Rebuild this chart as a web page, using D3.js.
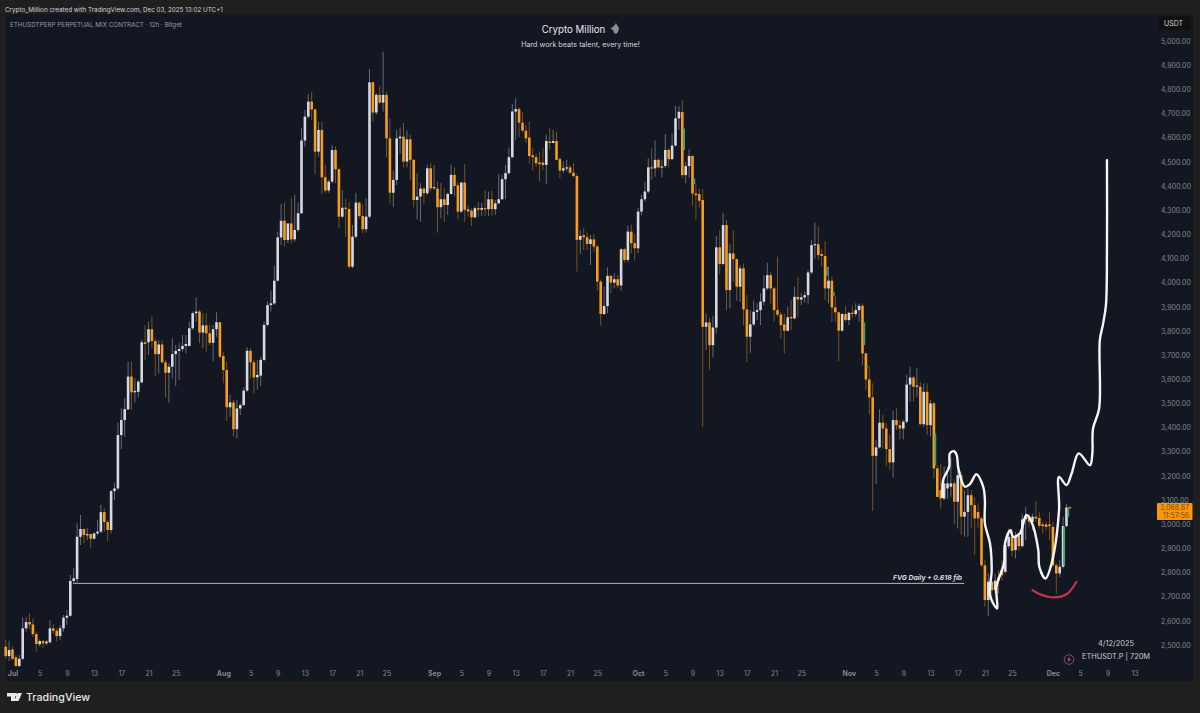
<!DOCTYPE html>
<html>
<head>
<meta charset="utf-8">
<script src="https://cdn.jsdelivr.net/npm/d3@7"></script>
<style>
  html, body { margin: 0; padding: 0; background: #1f1f1f; }
  svg { display: block; font-family: Inter, "Liberation Sans", sans-serif; }
</style>
</head>
<body>
<svg id="chart" width="1200" height="713"></svg>
<script>
// 12h candles, first one opens 30 Jun 2025
var opens = [
  2493,2454,2482,2449,2413,2443,2569,2595,2585,2545,
  2503,2516,2507,2511,2569,2559,2537,2569,2613,2621,
  2765,2773,2948,2980,2955,2959,2940,2962,2969,3050,
  3009,2976,3137,3148,3369,3431,3475,3611,3546,3548,
  3587,3753,3753,3807,3758,3704,3744,3670,3627,3652,
  3704,3717,3725,3738,3738,3811,3873,3880,3793,3823,
  3790,3751,3807,3836,3696,3638,3484,3504,3393,3479,
  3493,3553,3718,3670,3608,3615,3680,3825,3907,3914,
  4008,4187,4256,4176,4245,4179,4218,4287,4588,4687,
  4749,4717,4542,4632,4436,4381,4418,4549,4469,4273,
  4310,4305,4066,4190,4331,4276,4221,4273,4829,4704,
  4777,4745,4777,4597,4372,4425,4597,4604,4501,4593,
  4508,4342,4356,4389,4370,4473,4390,4389,4312,4345,
  4321,4367,4446,4403,4294,4414,4304,4298,4270,4308,
  4302,4308,4304,4345,4304,4328,4345,4428,4453,4519,
  4708,4718,4662,4629,4600,4527,4519,4497,4497,4487,
  4584,4578,4586,4511,4464,4473,4477,4455,4441,4177,
  4196,4188,4160,4179,4149,4004,3870,3903,4028,4000,
  4014,3988,4138,4094,4211,4163,4142,4294,4345,4377,
  4477,4473,4508,4477,4483,4549,4511,4567,4680,4706,
  4445,4482,4524,4369,4366,4342,3817,3835,3741,3814,
  4146,4077,4238,3969,4121,4097,3983,4059,3889,3776,
  3827,3879,3886,3921,3976,4031,3976,3886,3868,3827,
  3801,3858,3852,3941,3930,3939,3948,4042,4155,4159,
  4118,4110,3976,4008,3897,3877,3801,3870,3845,3875,
  3870,3886,3904,3707,3599,3525,3283,3318,3420,3396,
  3311,3256,3431,3410,3396,3424,3578,3607,3569,3569,
  3414,3548,3410,3500,3231,3141,3106,3148,3155,3169,
  3093,3203,3031,3051,3120,3079,3051,3024,2830,2686,
  2762,2727,2780,2810,2803,2909,2948,2893,2951,2909,
  3020,3031,3010,3031,3026,2999,2999,2999,2989,2830,
  2796,2824,2992,3070
];
var closes = [
  2454,2479,2443,2413,2443,2569,2595,2585,2545,2504,
  2516,2507,2514,2569,2559,2537,2569,2613,2621,2765,
  2776,2948,2980,2955,2959,2940,2962,2969,3050,3009,
  2976,3137,3148,3369,3431,3476,3611,3546,3552,3590,
  3753,3746,3807,3758,3704,3744,3670,3627,3652,3704,
  3717,3725,3738,3746,3811,3873,3880,3793,3823,3790,
  3751,3807,3836,3693,3638,3484,3504,3393,3479,3493,
  3553,3718,3670,3608,3618,3680,3825,3907,3914,4008,
  4187,4256,4176,4245,4179,4218,4287,4588,4687,4749,
  4717,4542,4632,4436,4381,4418,4549,4469,4273,4310,
  4305,4066,4190,4331,4276,4221,4273,4829,4704,4777,
  4745,4777,4597,4372,4425,4597,4604,4501,4593,4508,
  4342,4356,4389,4370,4473,4390,4395,4312,4345,4321,
  4367,4446,4400,4294,4414,4301,4294,4270,4308,4302,
  4309,4304,4345,4304,4328,4345,4428,4453,4519,4708,
  4718,4662,4629,4597,4524,4519,4494,4490,4487,4586,
  4578,4586,4508,4464,4473,4477,4455,4441,4177,4193,
  4188,4160,4179,4149,4004,3870,3903,4028,4000,4014,
  3988,4138,4094,4211,4163,4142,4294,4345,4377,4477,
  4473,4508,4477,4481,4549,4511,4567,4680,4707,4445,
  4482,4524,4369,4362,4339,3817,3835,3741,3814,4146,
  4077,4238,3969,4121,4097,3983,4059,3889,3776,3827,
  3879,3886,3921,3976,4031,3976,3886,3868,3824,3801,
  3856,3852,3941,3930,3939,3948,4042,4155,4159,4114,
  4110,3976,4008,3897,3877,3801,3870,3845,3875,3870,
  3886,3904,3707,3599,3525,3283,3318,3420,3396,3311,
  3256,3431,3410,3396,3424,3578,3607,3569,3574,3414,
  3548,3410,3500,3231,3113,3106,3169,3169,3169,3093,
  3203,3031,3051,3120,3079,3024,3024,2830,2686,2762,
  2727,2766,2766,2789,2913,2948,2890,2948,2909,3020,
  3033,3010,3031,3024,2993,2992,2989,2992,2830,2796,
  2824,2992,3069,3068.87
];
var highs = [
  2521,2518,2493,2458,2458,2614,2614,2631,2610,2555,
  2523,2521,2521,2603,2587,2569,2583,2624,2645,2790,
  2817,3004,3038,2983,2983,2962,2965,3017,3080,3066,
  3017,3142,3172,3420,3480,3521,3673,3673,3604,3597,
  3762,3824,3838,3859,3769,3762,3762,3680,3666,3769,
  3742,3749,3783,3783,3838,3880,3939,3887,3873,3873,
  3825,3825,3877,3838,3714,3673,3535,3514,3514,3500,
  3566,3732,3728,3680,3680,3693,3838,3921,3967,4069,
  4211,4325,4331,4245,4349,4363,4331,4639,4715,4779,
  4790,4721,4666,4666,4487,4425,4570,4563,4477,4383,
  4349,4335,4238,4372,4335,4325,4349,4884,4832,4784,
  4814,4956,4790,4680,4463,4632,4643,4662,4629,4611,
  4511,4453,4411,4395,4487,4494,4487,4418,4411,4390,
  4372,4487,4477,4418,4418,4490,4321,4308,4315,4335,
  4331,4381,4377,4381,4342,4450,4446,4487,4559,4740,
  4763,4726,4704,4653,4666,4556,4533,4542,4556,4611,
  4639,4632,4625,4519,4501,4508,4487,4494,4450,4218,
  4225,4207,4197,4201,4156,4011,3983,4063,4032,4039,
  4032,4142,4142,4235,4239,4204,4308,4363,4418,4515,
  4556,4588,4515,4508,4615,4556,4618,4731,4731,4756,
  4500,4551,4528,4411,4390,4387,3872,3854,3861,4194,
  4217,4289,4259,4162,4215,4100,4072,4079,3948,3886,
  3925,3914,3955,4031,4082,4045,3983,4107,3879,3872,
  3900,3930,3983,4024,3958,3962,4052,4176,4249,4231,
  4137,4173,4066,4024,3944,3879,3875,3903,3879,3907,
  3914,3914,3914,3710,3652,3583,3348,3476,3452,3417,
  3369,3469,3479,3431,3431,3617,3652,3613,3645,3590,
  3583,3583,3514,3507,3244,3249,3240,3238,3279,3182,
  3251,3217,3141,3148,3141,3113,3085,3031,2851,2796,
  2768,2796,2810,2851,2941,2982,2982,2969,2955,3044,
  3072,3044,3044,3097,3051,3010,3010,3051,3010,2837,
  2851,3031,3083,3075
];
var lows = [
  2445,2434,2438,2410,2410,2438,2555,2565,2534,2472,
  2493,2486,2500,2507,2548,2514,2521,2555,2583,2617,
  2755,2755,2914,2921,2935,2900,2937,2955,2962,2969,
  2930,2962,3100,3142,3311,3362,3473,3473,3503,3525,
  3583,3680,3700,3728,3613,3624,3666,3525,3503,3604,
  3572,3597,3714,3707,3735,3804,3838,3749,3728,3714,
  3742,3673,3776,3686,3583,3428,3445,3362,3355,3452,
  3489,3548,3604,3542,3558,3572,3676,3818,3880,3907,
  4004,4156,4149,4163,4163,4169,4211,4284,4563,4680,
  4673,4450,4521,4367,4370,4372,4411,4411,4225,4266,
  4190,4059,4059,4183,4266,4204,4207,4266,4666,4694,
  4742,4708,4519,4328,4312,4404,4535,4477,4477,4425,
  4312,4262,4252,4326,4363,4377,4383,4207,4266,4252,
  4280,4363,4356,4262,4287,4252,4273,4235,4266,4273,
  4276,4276,4276,4276,4280,4326,4342,4345,4446,4515,
  4590,4602,4621,4577,4494,4464,4480,4418,4466,4408,
  4552,4577,4508,4432,4453,4460,4450,4436,4046,4119,
  4135,4135,4073,4128,3967,3821,3866,3873,3956,3976,
  3976,3967,4083,4083,4121,4091,4121,4280,4335,4370,
  4425,4439,4473,4436,4473,4477,4508,4563,4632,4431,
  4411,4435,4317,4262,4311,3403,3721,3638,3690,3790,
  4035,4072,3886,3893,4003,3925,3921,3824,3672,3710,
  3820,3845,3824,3907,3969,3914,3838,3859,3769,3707,
  3797,3803,3848,3859,3907,3917,3914,4035,4100,4093,
  4066,3928,3914,3838,3838,3676,3797,3838,3824,3852,
  3859,3838,3658,3555,3456,3054,3166,3313,3313,3240,
  3224,3193,3389,3351,3351,3417,3507,3507,3527,3410,
  3403,3369,3362,3189,3113,3065,3100,3106,3113,3000,
  2982,2955,2948,2948,2982,2872,2982,2824,2658,2619,
  2672,2713,2713,2768,2796,2900,2865,2858,2890,2904,
  2934,2989,2975,3010,2982,2962,2975,2934,2824,2713,
  2782,2817,2989,3066
];

// short green overlay segments beside some candles
var greenBars = [199.5, 202.5, 241.5, 243.5, 252.5, 253.4, 273.4, 311.3, 312.5];
var greenHighs = [4638, 4431, 4066, 3962, 3835, 3658, 3376, 2989, 3069];
var greenLows = [4549, 4408, 4028, 3944, 3741, 3649, 3244, 2830, 3031];

// hand drawn white projection, bar position + price
var sketchBars = [275.6,275.7,277.5,277.7,278.9,279.7,280.2,282.1,283.6,285.5,287.5,288,288,289.5,290,289.5,291.6,291.4,293.6,293.9,295.5,296.3,298.3,300.2,301.7,303.7,304,305.8,307.6,309.8,309.8,312,313.5,315.6,318.9,319.6,319.8,321.6,321.8,322.7,323.6,323.9,323.9];
var sketchPrices = [3113,3182,3238,3293,3302,3286,3231,3155,3166,3207,3155,3100,3003,2920,2810,2706,2651,2741,2837,2920,2975,2948,2962,3038,3010,2893,2824,2775,2837,3058,3196,3162,3210,3293,3244,3293,3396,3479,3762,3825,3907,4135,4507];

// red arc under the low
var arcBars = [302, 304.2, 308.1, 312, 314.9];
var arcPrices = [2727, 2710, 2697, 2710, 2761];

var fvgPrice = 2755;
var fvgFrom = 19.8;
var fvgTo = 281.9;

var lastPrice = 3068.87;

var priceTicks = [5000,4900,4800,4700,4600,4500,4400,4300,4200,4100,4000,3900,3800,3700,3600,3500,3400,3300,3200,3100,3000,2900,2800,2700,2600,2500];
var timeTicks = [
  "2025-07-01","2025-07-05","2025-07-09","2025-07-13","2025-07-17","2025-07-21","2025-07-25",
  "2025-08-01","2025-08-05","2025-08-09","2025-08-13","2025-08-17","2025-08-21","2025-08-25",
  "2025-09-01","2025-09-05","2025-09-09","2025-09-13","2025-09-17","2025-09-21","2025-09-25",
  "2025-10-01","2025-10-05","2025-10-09","2025-10-13","2025-10-17","2025-10-21","2025-10-25",
  "2025-11-01","2025-11-05","2025-11-09","2025-11-13","2025-11-17","2025-11-21","2025-11-25",
  "2025-12-01","2025-12-05","2025-12-09","2025-12-13"
];

var firstBar = new Date(Date.UTC(2025, 5, 30));
var lastTick = new Date(Date.UTC(2025, 11, 13));

var x = d3.scaleUtc().domain([firstBar, lastTick]).range([5.7, 1134.5]);
var y = d3.scaleLinear().domain([2500, 5000]).range([645, 41]);

function barX(i) {
  return x(new Date(firstBar.getTime() + i * 12 * 3600 * 1000));
}

var svg = d3.select("#chart");

svg.append("rect").attr("width", 1200).attr("height", 713).attr("fill", "#1f1f1f");
svg.append("rect").attr("x", 6).attr("y", 14).attr("width", 1187).attr("height", 667).attr("fill", "#131722");

// fvg level sits under the candles
svg.append("line")
  .attr("x1", barX(fvgFrom)).attr("x2", barX(fvgTo))
  .attr("y1", y(fvgPrice)).attr("y2", y(fvgPrice))
  .attr("stroke", "#b2b5be").attr("stroke-width", 1);

var candles = svg.append("g").selectAll("g")
  .data(closes)
  .enter().append("g");

candles.append("line")
  .attr("x1", function(d, i) { return barX(i); })
  .attr("x2", function(d, i) { return barX(i); })
  .attr("y1", function(d, i) { return y(highs[i]); })
  .attr("y2", function(d, i) { return y(lows[i]); })
  .attr("stroke", function(d, i) { return d >= opens[i] ? "#666974" : "#74531f"; })
  .attr("stroke-width", 1);

candles.append("rect")
  .attr("x", function(d, i) { return barX(i) - 1.3; })
  .attr("width", 2.6)
  .attr("y", function(d, i) { return y(Math.max(d, opens[i])); })
  .attr("height", function(d, i) { return Math.max(1.2, Math.abs(y(d) - y(opens[i]))); })
  .attr("fill", function(d, i) { return d >= opens[i] ? "#d6d9e4" : "#f79d1a"; });

svg.append("g").selectAll("rect")
  .data(greenBars)
  .enter().append("rect")
  .attr("x", function(d) { return barX(d) - 1; })
  .attr("width", 2)
  .attr("y", function(d, i) { return y(greenHighs[i]); })
  .attr("height", function(d, i) { return y(greenLows[i]) - y(greenHighs[i]); })
  .attr("fill", "#4f9a6c");

var sketchLine = d3.line()
  .x(function(d) { return barX(d[0]); })
  .y(function(d) { return y(d[1]); })
  .curve(d3.curveCatmullRom.alpha(0.5));

svg.append("path")
  .attr("d", sketchLine(d3.zip(arcBars, arcPrices)))
  .attr("fill", "none").attr("stroke", "#c8324a").attr("stroke-width", 2.2).attr("stroke-linecap", "round");

svg.append("path")
  .attr("d", sketchLine(d3.zip(sketchBars, sketchPrices)))
  .attr("fill", "none").attr("stroke", "#f4f5f7").attr("stroke-width", 2.4)
  .attr("stroke-linecap", "round").attr("stroke-linejoin", "round");

svg.append("text")
  .attr("x", barX(fvgTo) - 2).attr("y", y(fvgPrice) - 3)
  .attr("text-anchor", "end")
  .attr("font-size", 6.8).attr("font-weight", 700).attr("font-style", "italic")
  .attr("fill", "#d8dae0")
  .text("FVG Daily + 0.618 fib");

// axes
var yAxis = svg.append("g")
  .attr("transform", "translate(1155,0)")
  .call(d3.axisRight(y).tickValues(priceTicks).tickSize(0).tickPadding(6).tickFormat(d3.format(",.2f")));
yAxis.select(".domain").remove();
yAxis.selectAll("text").attr("fill", "#82858f").attr("font-size", 7).attr("font-family", "Inter");

var tickDates = timeTicks.map(function(d) { return new Date(d + "T00:00:00Z"); });
var monthName = d3.utcFormat("%b");
var xAxis = svg.append("g")
  .attr("transform", "translate(0,667)")
  .call(d3.axisBottom(x).tickValues(tickDates).tickSize(0).tickPadding(4).tickFormat(function(d) {
    return d.getUTCDate() === 1 ? monthName(d) : d.getUTCDate();
  }));
xAxis.select(".domain").remove();
xAxis.selectAll("text")
  .attr("fill", "#82858f").attr("font-size", 7).attr("font-family", "Inter")
  .attr("font-weight", function(d) { return d.getUTCDate() === 1 ? 700 : 400; });

// usdt box and last price tag
svg.append("rect").attr("x", 1159).attr("y", 16).attr("width", 32).attr("height", 14).attr("fill", "#101010");
svg.append("text").attr("x", 1164).attr("y", 26).attr("font-size", 7).attr("fill", "#d1d4dc").text("USDT");

svg.append("rect").attr("x", 1157).attr("y", y(lastPrice) - 4.5).attr("width", 35.5).attr("height", 17).attr("rx", 1).attr("fill", "#ff9800");
svg.append("text").attr("x", 1189).attr("y", y(lastPrice) + 2.5).attr("text-anchor", "end").attr("font-size", 7).attr("fill", "#6e4a12").text(d3.format(",.2f")(lastPrice));
svg.append("text").attr("x", 1189).attr("y", y(lastPrice) + 10).attr("text-anchor", "end").attr("font-size", 7).attr("fill", "#6e4a12").text("11:57:56");

// header texts
svg.append("text").attr("x", 5).attr("y", 11.5).attr("font-size", 6.3).attr("fill", "#d1d4dc")
  .text("Crypto_Million created with TradingView.com, Dec 03, 2025 13:02 UTC+1");
svg.append("text").attr("x", 10).attr("y", 26.5).attr("font-size", 6.3).attr("fill", "#9598a1")
  .text("ETHUSDTPERP PERPETUAL MIX CONTRACT · 12h · Bitget");
svg.append("text").attr("x", 573.5).attr("y", 33).attr("text-anchor", "middle").attr("font-size", 9.7).attr("fill", "#e4e6eb")
  .text("Crypto Million");
svg.append("text").attr("x", 580.5).attr("y", 47).attr("text-anchor", "middle").attr("font-size", 7.2).attr("fill", "#d1d4dc")
  .text("Hard work beats talent, every time!");

// wolf head next to the title
svg.append("path")
  .attr("d", "M610 29l4-3 2-3 1 2 2 3-1 4-2 2-2-1-1-3-2-1z")
  .attr("fill", "#8b8d93");

// bottom right stamp
svg.append("text").attr("x", 1116).attr("y", 646).attr("text-anchor", "middle").attr("font-size", 7.4).attr("fill", "#c8cad0").text("4/12/2025");
svg.append("text").attr("x", 1116).attr("y", 658.5).attr("text-anchor", "middle").attr("font-size", 7.4).attr("fill", "#c8cad0").text("ETHUSDT.P | 720M");
svg.append("circle").attr("cx", 1069).attr("cy", 659.5).attr("r", 4.8).attr("fill", "none").attr("stroke", "#9c3f8f").attr("stroke-width", 1);
svg.append("path").attr("d", "M1070 656l-3 4h2l-1 3 3-4h-2z").attr("fill", "#c0487a");

// tradingview logo
svg.append("path")
  .attr("d", "M7 693h8v8h-4v-4.500H7zM22 693l-3.500 8h-4.300l3.500-8z")
  .attr("fill", "#e8e8e8");
svg.append("circle").attr("cx", 15.8).attr("cy", 694.7).attr("r", 1.7).attr("fill", "#e8e8e8");
svg.append("text").attr("x", 26).attr("y", 701).attr("font-size", 10.7).attr("font-weight", 500).attr("fill", "#e8e8e8").text("TradingView");
</script>
</body>
</html>
